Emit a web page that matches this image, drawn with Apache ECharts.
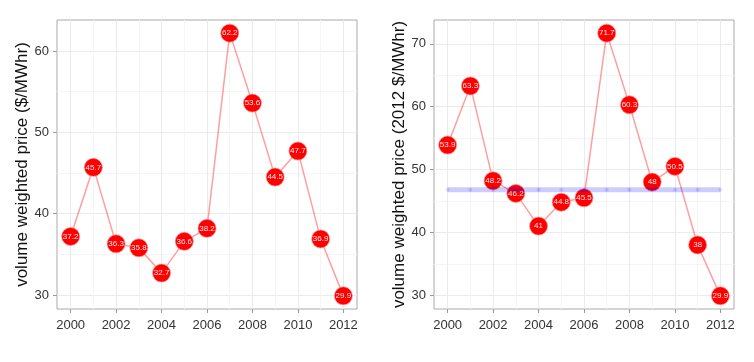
<!DOCTYPE html>
<html><head><meta charset="utf-8">
<script src="https://cdn.jsdelivr.net/npm/echarts@6/dist/echarts.min.js"></script>
<style>html,body{margin:0;padding:0;background:#fff}#c{width:754px;height:362px}</style>
</head><body><div id="c"></div>
<script>
const years = [2000,2001,2002,2003,2004,2005,2006,2007,2008,2009,2010,2011,2012];
const nominalPrice = [37.2,45.7,36.3,35.8,32.7,36.6,38.2,62.2,53.6,44.5,47.7,36.9,29.9];
const realPrice = [53.9,63.3,48.2,46.2,41,44.8,45.5,71.7,60.3,48,50.5,38,29.9];
const realAvgLine = [46.8,46.8,46.8,46.8,46.8,46.8,46.8,46.8,46.8,46.8,46.8,46.8,46.8];
const xMajor = [2000,2002,2004,2006,2008,2010,2012];
const xMinor = [2001,2003,2005,2007,2009,2011];
const yMajorL = [30,40,50,60];
const yMinorL = [35,45,55];
const yMajorR = [30,40,50,60,70];
const yMinorR = [35,45,55,65];
const yTitleL = 'volume weighted price ($/MWhr)';
const yTitleR = 'volume weighted price (2012 $/MWhr)';

const FONT = '"Liberation Sans", Arial, sans-serif';
const xmin = 1999.4, xmax = 2012.6;

function xAxes(gi){
  return [
    {type:'value', gridIndex:gi, min:xmin, max:xmax, position:'bottom',
     axisLine:{show:false},
     axisTick:{show:true, length:4, customValues:xMajor, lineStyle:{color:'#999'}},
     axisLabel:{customValues:xMajor, fontFamily:FONT, fontSize:13, color:'#333', margin:10,
       formatter:v=>String(Math.round(v))},
     splitLine:{show:true, lineStyle:{color:'#ebebeb', width:1}}},
    {type:'value', gridIndex:gi, min:xmin, max:xmax, position:'bottom',
     axisLine:{show:false}, axisLabel:{show:false},
     axisTick:{show:false, customValues:xMinor},
     splitLine:{show:true, lineStyle:{color:'#f5f5f5', width:1}}}
  ];
}
function yAxes(gi, mn, mx, major, minor, title){
  return [
    {type:'value', gridIndex:gi, min:mn, max:mx, position:'left',
     name:title, nameLocation:'middle', nameGap:25,
     nameTextStyle:{fontFamily:FONT, fontSize:17, color:'#111'},
     axisLine:{show:false},
     axisTick:{show:true, length:4, customValues:major, lineStyle:{color:'#999'}},
     axisLabel:{customValues:major, fontFamily:FONT, fontSize:13, color:'#333', margin:8},
     splitLine:{show:true, lineStyle:{color:'#ebebeb', width:1}}},
    {type:'value', gridIndex:gi, min:mn, max:mx, position:'left',
     axisLine:{show:false}, axisLabel:{show:false},
     axisTick:{show:false, customValues:minor},
     splitLine:{show:true, lineStyle:{color:'#f5f5f5', width:1}}}
  ];
}
function priceSeries(xi, yi, vals){
  return {type:'line', xAxisIndex:xi, yAxisIndex:yi,
    data: years.map((y,i)=>[y, vals[i]]),
    lineStyle:{color:'rgba(255,0,0,0.38)', width:1.5},
    symbol:'circle', symbolSize:18,
    itemStyle:{color:'#ff0000', borderColor:'rgba(255,140,140,0.8)', borderWidth:0.8},
    label:{show:true, position:'inside', color:'#ffe8e8', fontFamily:FONT, fontSize:8,
      formatter:p=>String(p.value[1])},
    emphasis:{disabled:true}, animation:false, z:3};
}

const chart = echarts.init(document.getElementById('c'), null, {renderer:'canvas'});
chart.setOption({
  animation:false,
  backgroundColor:'#fff',
  grid:[
    {left:57, top:20, width:300, height:289, show:true, borderColor:'#aaa', borderWidth:1, backgroundColor:'transparent'},
    {left:434, top:20, width:300, height:289, show:true, borderColor:'#aaa', borderWidth:1, backgroundColor:'transparent'}
  ],
  xAxis:[...xAxes(0), ...xAxes(1)],
  yAxis:[...yAxes(0, 28.285, 63.815, yMajorL, yMinorL, yTitleL),
         ...yAxes(1, 27.81, 73.79, yMajorR, yMinorR, yTitleR)],
  series:[
    priceSeries(0, 0, nominalPrice),
    priceSeries(2, 2, realPrice),
    {type:'line', xAxisIndex:2, yAxisIndex:2,
     data: years.map((y,i)=>[y, realAvgLine[i]]),
     lineStyle:{color:'rgba(0,0,255,0.2)', width:5},
     symbol:'circle', symbolSize:4, itemStyle:{color:'rgba(0,0,255,0.12)', borderWidth:0},
     emphasis:{disabled:true}, z:4}
  ]
});
</script></body></html>
